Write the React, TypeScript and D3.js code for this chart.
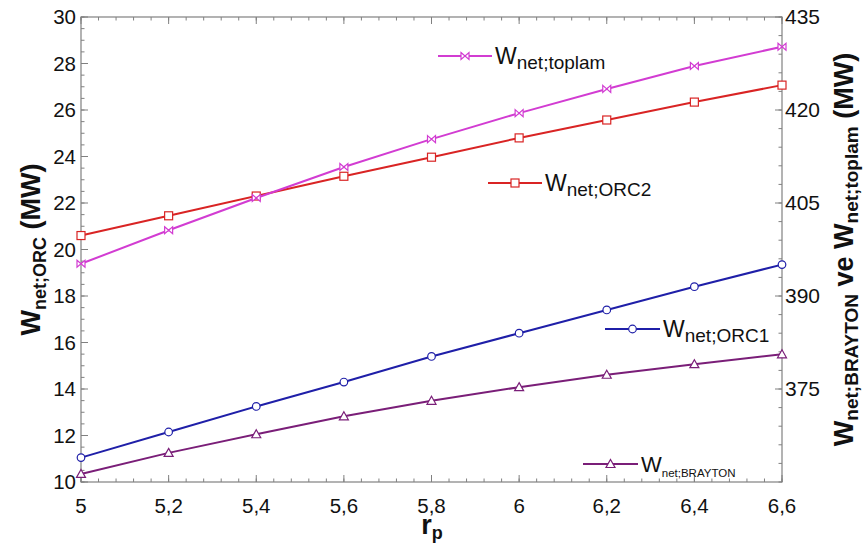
import React from "react";
import * as d3 from "d3";

const rpValues = [5, 5.2, 5.4, 5.6, 5.8, 6, 6.2, 6.4, 6.6];
const orc1 = [11.05, 12.15, 13.25, 14.3, 15.4, 16.4, 17.4, 18.4, 19.35];
const orc2 = [20.6, 21.45, 22.3, 23.15, 23.97, 24.8, 25.57, 26.34, 27.07];
const toplam = [395.2, 400.6, 405.8, 410.8, 415.3, 419.5, 423.4, 427.1, 430.2];
const brayton = [361.3, 364.7, 367.7, 370.6, 373.1, 375.3, 377.3, 379.0, 380.6];

const xTicks = [5, 5.2, 5.4, 5.6, 5.8, 6, 6.2, 6.4, 6.6];
const xTickLabels = ["5", "5,2", "5,4", "5,6", "5,8", "6", "6,2", "6,4", "6,6"];
const leftTicks = [10, 12, 14, 16, 18, 20, 22, 24, 26, 28, 30];
const rightTicks = [375, 390, 405, 420, 435];

const W = 865;
const H = 546;
const L = 81, R = 782, T = 17, B = 482;
const FONT = "'Liberation Sans', Arial, sans-serif";
const AX = "#808080";

const C_ORC1 = "#1f1fa8";
const C_ORC2 = "#d92424";
const C_TOP = "#d23cd2";
const C_BRA = "#7a1e78";

type MarkerKind = "circle" | "square" | "tri" | "bow";

function Marker({ kind, x, y, color }: { kind: MarkerKind; x: number; y: number; color: string }) {
  const s = 4;
  if (kind === "circle") return <circle cx={x} cy={y} r={3.8} fill="white" stroke={color} strokeWidth={1.2} />;
  if (kind === "square") return <rect x={x - s} y={y - s} width={2 * s} height={2 * s} fill="white" stroke={color} strokeWidth={1.2} />;
  if (kind === "tri")
    return <path d={`M${x},${y - 4.5}L${x + 4.5},${y + 3.5}L${x - 4.5},${y + 3.5}Z`} fill="white" stroke={color} strokeWidth={1.2} />;
  return <path d={`M${x - 4},${y - 3.5}L${x + 4},${y + 3.5}L${x + 4},${y - 3.5}L${x - 4},${y + 3.5}Z`} fill="white" stroke={color} strokeWidth={1.2} />;
}

export default function App() {
  const x = d3.scaleLinear().domain([5, 6.6]).range([L, R]);
  const yL = d3.scaleLinear().domain([10, 30]).range([B, T]);
  const yR = d3.scaleLinear().domain([360, 435]).range([B, T]);

  const series = [
    { vals: orc2, scale: yL, color: C_ORC2, kind: "square" as MarkerKind },
    { vals: toplam, scale: yR, color: C_TOP, kind: "bow" as MarkerKind },
    { vals: orc1, scale: yL, color: C_ORC1, kind: "circle" as MarkerKind },
    { vals: brayton, scale: yR, color: C_BRA, kind: "tri" as MarkerKind },
  ];

  const xMinor = d3.range(5, 6.6001, 0.04);
  const lMinor = d3.range(10, 30.001, 0.5);
  const rMinor = d3.range(360, 435.001, 3);

  const legends = [
    { x1: 438, x2: 492, y: 56, color: C_TOP, kind: "bow" as MarkerKind, sub: "net;toplam", fw: 23, fs: 19 },
    { x1: 488, x2: 542, y: 183, color: C_ORC2, kind: "square" as MarkerKind, sub: "net;ORC2", fw: 23, fs: 19 },
    { x1: 605, x2: 660, y: 329, color: C_ORC1, kind: "circle" as MarkerKind, sub: "net;ORC1", fw: 23, fs: 19 },
    { x1: 583, x2: 638, y: 464, color: C_BRA, kind: "tri" as MarkerKind, sub: "net;BRAYTON", fw: 22, fs: 11.5 },
  ];

  return (
    <svg width={W} height={H} style={{ position: "absolute", left: 0, top: 0, background: "white" }} fontFamily={FONT}>
      <rect width={W} height={H} fill="white" />
      {xMinor.map((v, i) => (
        <g key={"xm" + i}>
          <line x1={x(v)} x2={x(v)} y1={B} y2={B - 3.5} stroke={AX} />
          <line x1={x(v)} x2={x(v)} y1={T} y2={T + 3.5} stroke={AX} />
        </g>
      ))}
      {xTicks.map((v, i) => (
        <g key={"xM" + i}>
          <line x1={x(v)} x2={x(v)} y1={B} y2={B - 7} stroke={AX} />
          <line x1={x(v)} x2={x(v)} y1={T} y2={T + 7} stroke={AX} />
          <text x={x(v)} y={513} textAnchor="middle" fontSize={20.5} fill="#111">
            {xTickLabels[i]}
          </text>
        </g>
      ))}
      {lMinor.map((v, i) => (
        <line key={"lm" + i} x1={L} x2={L + 3.5} y1={yL(v)} y2={yL(v)} stroke={AX} />
      ))}
      {leftTicks.map((v, i) => (
        <g key={"lM" + i}>
          <line x1={L} x2={L + 7} y1={yL(v)} y2={yL(v)} stroke={AX} />
          <text x={L - 5} y={yL(v) + 7} textAnchor="end" fontSize={20.5} fill="#111">
            {v}
          </text>
        </g>
      ))}
      {rMinor.map((v, i) => (
        <line key={"rm" + i} x1={R} x2={R - 3.5} y1={yR(v)} y2={yR(v)} stroke={AX} />
      ))}
      {rightTicks.map((v, i) => (
        <g key={"rM" + i}>
          <line x1={R} x2={R - 7} y1={yR(v)} y2={yR(v)} stroke={AX} />
          <text x={R + 3} y={yR(v) + 7} textAnchor="start" fontSize={21} fill="#111">
            {v}
          </text>
        </g>
      ))}
      <rect x={L} y={T} width={R - L} height={B - T} fill="none" stroke={AX} strokeWidth={1.2} />

      {series.map((s, si) => {
        const line = d3
          .line<number>()
          .x((_, i) => x(rpValues[i]))
          .y((d) => s.scale(d));
        return (
          <g key={"s" + si}>
            <path d={line(s.vals) || ""} fill="none" stroke={s.color} strokeWidth={2} />
            {s.vals.map((d, i) => (
              <Marker key={i} kind={s.kind} x={x(rpValues[i])} y={s.scale(d)} color={s.color} />
            ))}
          </g>
        );
      })}

      {legends.map((lg, i) => (
        <g key={"lg" + i}>
          <line x1={lg.x1} x2={lg.x2} y1={lg.y} y2={lg.y} stroke={lg.color} strokeWidth={2} />
          <Marker kind={lg.kind} x={(lg.x1 + lg.x2) / 2} y={lg.y} color={lg.color} />
          <text x={lg.x2 + 3} y={lg.y + 7.5} fontSize={lg.fw} fill="#111">
            W<tspan fontSize={lg.fs} dy={5}>{lg.sub}</tspan>
          </text>
        </g>
      ))}

      <text x={432} y={534} textAnchor="middle" fontSize={27} fontWeight="bold" fill="#111">
        r<tspan fontSize={18} dy={5}>p</tspan>
      </text>
      <text transform={`translate(40,${(T + B) / 2}) rotate(-90)`} textAnchor="middle" fontSize={27} fontWeight="bold" fill="#111">
        W<tspan fontSize={18} dy={6}>net;ORC</tspan>
        <tspan dy={-6}> (MW)</tspan>
      </text>
      <text transform={`translate(853,${(T + B) / 2}) rotate(-90)`} textAnchor="middle" fontSize={27} fontWeight="bold" fill="#111">
        W<tspan fontSize={19} dy={5}>net;BRAYTON</tspan>
        <tspan dy={-5}> ve W</tspan>
        <tspan fontSize={19} dy={5}>net;toplam</tspan>
        <tspan dy={-5}> (MW)</tspan>
      </text>
    </svg>
  );
}
